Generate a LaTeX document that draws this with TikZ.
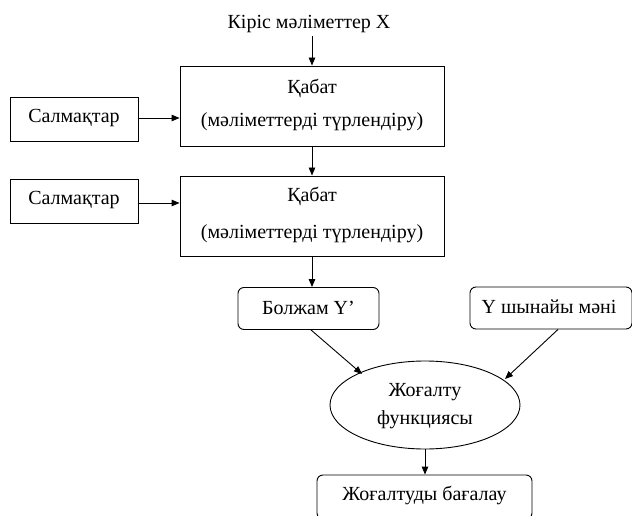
\documentclass[tikz,border=0pt]{standalone}
\usepackage{fontspec}
\setmainfont{Liberation Serif}
\usetikzlibrary{arrows.meta,shapes.geometric}

\tikzset{
  flow/.style={draw=black, line width=0.9pt, -{Triangle[length=8pt,width=6.5pt]}},
  sqbox/.style={draw=black, line width=0.9pt, inner sep=0pt},
  rbox/.style={draw=black, line width=0.9pt, rounded corners=6pt, inner sep=0pt},
  lbl/.style={font=\fontsize{20}{22}\selectfont, inner sep=0pt}
}

\begin{document}
\begin{tikzpicture}[x=1pt,y=-1pt]
  \useasboundingbox (0,0) rectangle (632,516);
  \clip (0,0) rectangle (632,516);
  \fill[white] (0,0) rectangle (632,516);

  % input
  \node[lbl] (in) at (309,24) {Кіріс мәліметтер X};

  % first layer and its weights
  \node[sqbox, minimum width=264pt, minimum height=80pt] (l1) at (312,106) {};
  \node[lbl] (l1a) at (312,88) {Қабат};
  \node[lbl] (l1b) at (312,122) {(мәліметтерді түрлендіру)};
  \node[sqbox, minimum width=128pt, minimum height=44pt] (w1) at (74,119) {};
  \node[lbl] (w1t) at (74,118) {Салмақтар};

  % second layer and its weights
  \node[sqbox, minimum width=264pt, minimum height=80pt] (l2) at (312,216) {};
  \node[lbl] (l2a) at (312,196) {Қабат};
  \node[lbl] (l2b) at (312,234) {(мәліметтерді түрлендіру)};
  \node[sqbox, minimum width=128pt, minimum height=44pt] (w2) at (74,201) {};
  \node[lbl] (w2t) at (74,200) {Салмақтар};

  % prediction and true value
  \node[rbox, minimum width=141pt, minimum height=42pt] (pred) at (308.5,308.5) {};
  \node[lbl] (predt) at (308.5,308) {Болжам Y’};
  \node[rbox, minimum width=162pt, minimum height=42pt] (true) at (551,308) {};
  \node[lbl] (truet) at (549,307) {Y шынайы мәні};

  % loss function
  \node[draw=black, line width=0.9pt, ellipse, minimum width=190pt, minimum height=88pt, inner sep=0pt] (loss) at (425,405) {};
  \node[lbl] (lossa) at (425,392) {Жоғалту};
  \node[lbl] (lossb) at (425,420) {функциясы};

  % loss evaluation
  \node[rbox, minimum width=215pt, minimum height=44pt] (eval) at (424.5,497) {};
  \node[lbl] (evalt) at (424.5,495) {Жоғалтуды бағалау};

  % connectors
  \coordinate (inbot) at (312,36);
  \draw[flow] (inbot) -- (l1.north -| inbot);
  \draw[flow] (w1.east |- 0,118) -- (l1.west |- 0,118);
  \draw[flow] (l1.south) -- (l2.north);
  \draw[flow] (w2.east |- 0,203) -- (l2.west |- 0,203);
  \draw[flow] (l2.south) -- (pred.north -| l2.south);
  \draw[flow] (pred.south -| 311,0) -- (362,374);
  \draw[flow] (true.south -| 558,0) -- (505,379);
  \draw[flow] (loss.south) -- (eval.north -| loss.south);
\end{tikzpicture}
\end{document}
